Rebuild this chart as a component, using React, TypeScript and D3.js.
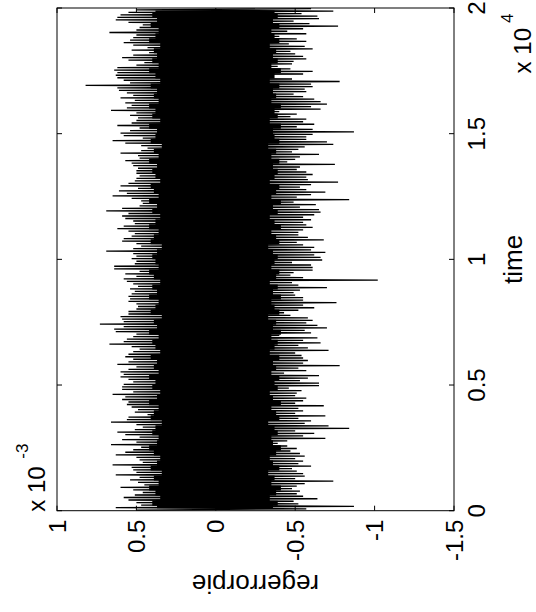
import * as d3 from 'd3'

// MATLAB-style figure, rotated 90deg counter-clockwise on the page.
// Values are in units of 1e-3 (y) and samples (x).

const xTicks = [0, 5000, 10000, 15000, 20000]
const xTickLabels = ['0', '0.5', '1', '1.5', '2']
const yTicks = [-1.5, -1, -0.5, 0, 0.5, 1]
const yTickLabels = ['-1.5', '-1', '-0.5', '0', '0.5', '1']

// per-bin max of the error (200 bins of 100 samples, from t = 0 upward)
const binMax = [
  0.50, 0.63, 0.47, 0.50, 0.55, 0.58, 0.51, 0.46, 0.52, 0.60, 0.45, 0.49, 0.54, 0.48, 0.63, 0.50, 0.52, 0.53, 0.65, 0.46,
  0.48, 0.50, 0.63, 0.57, 0.52, 0.47, 0.66, 0.50, 0.59, 0.48, 0.57, 0.62, 0.51, 0.46, 0.50, 0.66, 0.56, 0.55, 0.43, 0.51,
  0.49, 0.53, 0.56, 0.55, 0.59, 0.57, 0.65, 0.52, 0.59, 0.59,
  0.58, 0.52, 0.55, 0.60, 0.58, 0.60, 0.55, 0.50, 0.62, 0.55, 0.52, 0.57, 0.55, 0.52, 0.48, 0.53, 0.67, 0.58, 0.56, 0.52,
  0.50, 0.63, 0.64, 0.58, 0.73, 0.58, 0.59, 0.60, 0.55, 0.55, 0.50, 0.49, 0.50, 0.55, 0.54, 0.55, 0.53, 0.51, 0.54, 0.49,
  0.52, 0.56, 0.58, 0.50, 0.57, 0.48, 0.64, 0.64, 0.51, 0.50,
  0.53, 0.50, 0.52, 0.69, 0.52, 0.47, 0.50, 0.59, 0.58, 0.53, 0.51, 0.55, 0.62, 0.58, 0.51, 0.52, 0.57, 0.59, 0.55, 0.69,
  0.59, 0.48, 0.46, 0.47, 0.53, 0.65, 0.56, 0.61, 0.49, 0.60, 0.55, 0.51, 0.50, 0.48, 0.50, 0.50, 0.49, 0.52, 0.53, 0.57,
  0.48, 0.49, 0.60, 0.47, 0.43, 0.47, 0.57, 0.65, 0.46, 0.58,
  0.60, 0.54, 0.48, 0.62, 0.53, 0.50, 0.49, 0.54, 0.50, 0.66, 0.56, 0.53, 0.57, 0.51, 0.60, 0.52, 0.56, 0.61, 0.62, 0.82,
  0.54, 0.58, 0.62, 0.63, 0.62, 0.64, 0.62, 0.50, 0.45, 0.55, 0.59, 0.52, 0.42, 0.53, 0.43, 0.52, 0.58, 0.54, 0.52, 0.50,
  0.67, 0.50, 0.48, 0.46, 0.55, 0.63, 0.62, 0.60, 0.55, 0.50,
]

// per-bin min of the error
const binMin = [
  -0.57, -0.87, -0.52, -0.49, -0.64, -0.55, -0.51, -0.53, -0.48, -0.51, -0.56, -0.74, -0.50, -0.56, -0.55, -0.51, -0.48, -0.60, -0.52, -0.55,
  -0.50, -0.56, -0.53, -0.47, -0.51, -0.45, -0.39, -0.45, -0.69, -0.55, -0.62, -0.50, -0.84, -0.71, -0.56, -0.60, -0.52, -0.69, -0.50, -0.55,
  -0.52, -0.68, -0.50, -0.55, -0.57, -0.50, -0.51, -0.54, -0.46, -0.65,
  -0.65, -0.53, -0.58, -0.65, -0.43, -0.57, -0.52, -0.78, -0.55, -0.58, -0.55, -0.54, -0.50, -0.71, -0.58, -0.52, -0.66, -0.55, -0.64, -0.40,
  -0.60, -0.56, -0.70, -0.64, -0.57, -0.61, -0.58, -0.47, -0.43, -0.52, -0.62, -0.55, -0.76, -0.55, -0.55, -0.50, -0.49, -0.53, -0.70, -0.52,
  -0.48, -1.02, -0.55, -0.47, -0.49, -0.61, -0.61, -0.60, -0.48, -0.67,
  -0.66, -0.62, -0.69, -0.60, -0.62, -0.55, -0.51, -0.68, -0.58, -0.52, -0.52, -0.55, -0.61, -0.57, -0.55, -0.60, -0.55, -0.62, -0.66, -0.65,
  -0.53, -0.63, -0.49, -0.84, -0.51, -0.60, -0.69, -0.57, -0.53, -0.60, -0.77, -0.58, -0.57, -0.61, -0.57, -0.51, -0.53, -0.75, -0.45, -0.50,
  -0.53, -0.65, -0.48, -0.52, -0.56, -0.74, -0.70, -0.57, -0.57, -0.61,
  -0.87, -0.61, -0.51, -0.62, -0.55, -0.57, -0.47, -0.51, -0.40, -0.66, -0.60, -0.70, -0.66, -0.62, -0.55, -0.49, -0.57, -0.56, -0.61, -0.60,
  -0.78, -0.48, -0.36, -0.55, -0.61, -0.47, -0.39, -0.48, -0.49, -0.57, -0.55, -0.50, -0.47, -0.61, -0.56, -0.46, -0.57, -0.51, -0.40, -0.57,
  -0.45, -0.55, -0.77, -0.59, -0.49, -0.65, -0.64, -0.54, -0.74, -0.60,
]

// edge of the solid core of the trace (100 bins of 200 samples)
const coreHi = [
  0.37, 0.40, 0.35, 0.38, 0.42, 0.36, 0.39, 0.34, 0.41, 0.37, 0.35, 0.39, 0.42, 0.37, 0.36, 0.40, 0.38, 0.34, 0.41, 0.39,
  0.36, 0.42, 0.37, 0.35, 0.40, 0.38, 0.42, 0.36, 0.39, 0.37, 0.41, 0.35, 0.38, 0.40, 0.36, 0.42, 0.37, 0.39, 0.34, 0.41,
  0.38, 0.36, 0.42, 0.37, 0.40, 0.35, 0.39, 0.42, 0.36, 0.38, 0.40, 0.37, 0.34, 0.41, 0.39, 0.36, 0.42, 0.38, 0.35, 0.40,
  0.37, 0.42, 0.36, 0.39, 0.41, 0.35, 0.38, 0.40, 0.37, 0.42, 0.36, 0.39, 0.34, 0.41, 0.38, 0.37, 0.42, 0.35, 0.40, 0.38,
  0.42, 0.36, 0.39, 0.37, 0.41, 0.35, 0.38, 0.42, 0.36, 0.40, 0.37, 0.39, 0.35, 0.42, 0.38, 0.36, 0.41, 0.37, 0.40, 0.38,
]
const coreLo = [
  -0.36, -0.39, -0.34, -0.38, -0.41, -0.35, -0.37, -0.33, -0.40, -0.36, -0.34, -0.38, -0.41, -0.36, -0.35, -0.39, -0.37, -0.33, -0.40, -0.38,
  -0.35, -0.41, -0.36, -0.34, -0.39, -0.37, -0.40, -0.35, -0.38, -0.36, -0.40, -0.34, -0.37, -0.39, -0.35, -0.41, -0.36, -0.38, -0.33, -0.40,
  -0.37, -0.35, -0.41, -0.36, -0.39, -0.34, -0.38, -0.40, -0.35, -0.37, -0.39, -0.36, -0.33, -0.40, -0.38, -0.35, -0.41, -0.37, -0.34, -0.39,
  -0.36, -0.41, -0.35, -0.38, -0.40, -0.34, -0.37, -0.39, -0.36, -0.40, -0.35, -0.38, -0.33, -0.40, -0.37, -0.36, -0.41, -0.34, -0.39, -0.37,
  -0.41, -0.35, -0.38, -0.36, -0.40, -0.34, -0.37, -0.41, -0.35, -0.39, -0.36, -0.38, -0.34, -0.40, -0.37, -0.35, -0.40, -0.36, -0.39, -0.37,
]

const PAGE_W = 536
const PAGE_H = 612
// figure frame before rotation
const FIG_W = PAGE_H
const FIG_H = PAGE_W
const margin = { top: 57, right: 8, bottom: 82, left: 101.3 }

const font = '"Liberation Sans", Arial, Helvetica, sans-serif'

export default function App() {
  const x = d3.scaleLinear().domain([0, 20000]).range([margin.left, FIG_W - margin.right])
  const y = d3.scaleLinear().domain([-1.5, 1]).range([FIG_H - margin.bottom, margin.top])
  const [x0, x1] = x.range()
  const [y0, y1] = y.range()
  const binW = 20000 / binMax.length

  const pts: [number, number][] = []
  binMax.forEach((hi, i) => {
    pts.push([i * binW + binW * 0.25, hi])
    pts.push([i * binW + binW * 0.75, binMin[i]])
  })
  const line = d3.line<[number, number]>().x(d => x(d[0])).y(d => y(d[1]))

  const coreW = 20000 / coreHi.length
  const area = d3
    .area<number>()
    .curve(d3.curveStep)
    .x((_, i) => x((i + 0.5) * coreW))
    .y0((_, i) => y(coreLo[i]))
    .y1(d => y(d))

  const tick = 5

  return (
    <svg
      width={PAGE_W}
      height={PAGE_H}
      style={{ position: 'absolute', left: 0, top: 0, background: '#fff' }}
      fontFamily={font}
    >
      <g transform={`translate(0,${PAGE_H}) rotate(-90)`}>
        <path d={area(coreHi) ?? ''} fill="#000" />
        <path d={line(pts) ?? ''} fill="none" stroke="#000" strokeWidth={1.3} />

        {/* box */}
        <rect x={x0} y={y1} width={x1 - x0} height={y0 - y1} fill="none" stroke="#000" strokeWidth={1} />

        {xTicks.map((t, i) => (
          <g key={'xt' + i}>
            <line x1={x(t)} x2={x(t)} y1={y0} y2={y0 - tick} stroke="#000" />
            <line x1={x(t)} x2={x(t)} y1={y1} y2={y1 + tick} stroke="#000" />
            <text x={x(t)} y={y0 + 31} fontSize={24} textAnchor="middle">
              {xTickLabels[i]}
            </text>
          </g>
        ))}
        {yTicks.map((v, i) => (
          <g key={'yt' + i}>
            <line x1={x0} x2={x0 + tick} y1={y(v)} y2={y(v)} stroke="#000" />
            <line x1={x1} x2={x1 - tick} y1={y(v)} y2={y(v)} stroke="#000" />
            <text x={x0 - 9} y={y(v)} fontSize={24} textAnchor="end" dominantBaseline="central">
              {yTickLabels[i]}
            </text>
          </g>
        ))}

        {/* exponent labels */}
        <text x={x1 - 20} y={y0 + 77} fontSize={24} textAnchor="end">x 10</text>
        <text x={x1 - 15} y={y0 + 59} fontSize={17}>4</text>
        <text x={x0 - 1} y={y1 - 12} fontSize={24}>x 10</text>
        <text x={x0 + 52} y={y1 - 29} fontSize={17}>-3</text>

        {/* axis labels */}
        <text x={(x0 + x1) / 2} y={y0 + 68} fontSize={26} textAnchor="middle">
          time
        </text>
        <text
          transform={`translate(37,${(y0 + y1) / 2}) rotate(-90)`}
          fontSize={26}
          textAnchor="middle"
        >
          regerrorpie
        </text>
      </g>
    </svg>
  )
}
